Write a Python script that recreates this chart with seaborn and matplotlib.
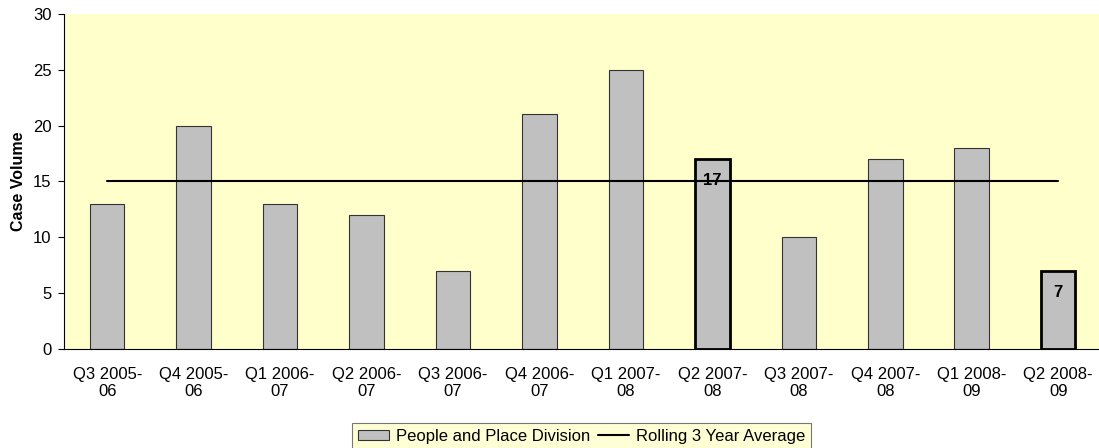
import matplotlib
matplotlib.use("Agg")
import matplotlib.pyplot as plt
import seaborn as sns
import pandas as pd
from matplotlib.patches import Patch
from matplotlib.lines import Line2D

quarters = ["Q3 2005-\n06", "Q4 2005-\n06", "Q1 2006-\n07", "Q2 2006-\n07",
            "Q3 2006-\n07", "Q4 2006-\n07", "Q1 2007-\n08", "Q2 2007-\n08",
            "Q3 2007-\n08", "Q4 2007-\n08", "Q1 2008-\n09", "Q2 2008-\n09"]
cases = [13, 20, 13, 12, 7, 21, 25, 17, 10, 17, 18, 7]
rolling_avg = [15] * 12
highlighted = ["Q2 2007-\n08", "Q2 2008-\n09"]

sns.set_style("white")
plt.rcParams["font.family"] = ["Liberation Sans", "DejaVu Sans"]
plt.rcParams["text.color"] = "black"
plt.rcParams["axes.labelcolor"] = "black"
plt.rcParams["xtick.color"] = "black"
plt.rcParams["ytick.color"] = "black"

df = pd.DataFrame({"quarter": quarters, "cases": cases, "avg": rolling_avg})

fig = plt.figure(figsize=(10.99, 4.48), dpi=100)
ax = fig.add_axes([0.0582, 0.221, 0.944, 0.748])
ax.set_facecolor("#FFFFCC")

sns.barplot(data=df, x="quarter", y="cases", color="#C0C0C0", width=0.4,
            edgecolor="#333333", linewidth=0.8, saturation=1, ax=ax)
for patch, q in zip(ax.patches, quarters):
    if q in highlighted:
        patch.set_edgecolor("black")
        patch.set_linewidth(2)
        ax.annotate(f"{int(patch.get_height())}",
                    (patch.get_x() + patch.get_width() / 2, patch.get_height()),
                    xytext=(0, -10), textcoords="offset points",
                    ha="center", va="top", fontsize=12, fontweight="bold")

sns.lineplot(data=df, x="quarter", y="avg", color="black", linewidth=1.5,
             ax=ax, legend=False)

ax.set_ylim(0, 30)
ax.set_xlim(-0.5, 11.5)
ax.set_yticks(range(0, 31, 5))
ax.set_xlabel("")
ax.set_ylabel("Case Volume", fontsize=11.5, fontweight="bold", labelpad=5)
ax.tick_params(axis="y", labelsize=12, length=4, direction="out", left=True,
               color="black", pad=5)
ax.tick_params(axis="x", labelsize=12, length=0, pad=13)
for s in ["top", "right"]:
    ax.spines[s].set_visible(False)
for s in ["left", "bottom"]:
    ax.spines[s].set_color("black")
    ax.spines[s].set_linewidth(0.8)

handles = [Patch(facecolor="#C0C0C0", edgecolor="#333333", linewidth=0.8),
           Line2D([0], [0], color="black", linewidth=1.5)]
leg = fig.legend(handles, ["People and Place Division", "Rolling 3 Year Average"],
                 loc="lower center", bbox_to_anchor=(0.529, -0.004), ncol=2,
                 fontsize=12, frameon=True, fancybox=False, handlelength=1.9,
                 handleheight=0.6, columnspacing=0.45, handletextpad=0.4,
                 borderpad=0.35, borderaxespad=0.0)
leg.get_frame().set_facecolor("#FFFFCC")
leg.get_frame().set_edgecolor("#555555")
leg.get_frame().set_linewidth(0.8)

fig.savefig("out.png", dpi=100)
